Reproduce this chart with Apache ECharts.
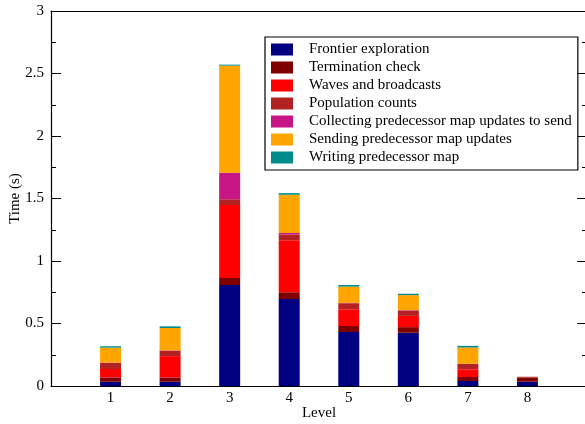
<!DOCTYPE html>
<html>
<head>
<meta charset="utf-8">
<script src="https://cdn.jsdelivr.net/npm/echarts@6/dist/echarts.min.js"></script>
<style>
  html, body { margin: 0; padding: 0; background: #fff; }
  #chart { width: 585px; height: 424px; }
</style>
</head>
<body>
<div id="chart"></div>
<script>
// BFS level timing breakdown, seconds per phase
const levels = [1, 2, 3, 4, 5, 6, 7, 8];
const frontier    = [0.034, 0.034, 0.808, 0.696, 0.432, 0.426, 0.040, 0.034];
const termination = [0.035, 0.035, 0.056, 0.054, 0.048, 0.045, 0.032, 0.034];
const waves       = [0.067, 0.170, 0.584, 0.416, 0.134, 0.090, 0.062, 0.002];
const population  = [0.048, 0.043, 0.046, 0.046, 0.048, 0.043, 0.042, 0.004];
const collecting  = [0.003, 0.003, 0.213, 0.012, 0.003, 0.003, 0.002, 0.000];
const sending     = [0.120, 0.179, 0.856, 0.306, 0.130, 0.120, 0.130, 0.000];
const writing     = [0.011, 0.013, 0.008, 0.013, 0.013, 0.011, 0.013, 0.000];

const yTicks = [0, 0.5, 1, 1.5, 2, 2.5, 3];

const phases = [
  { name: 'Frontier exploration', values: frontier, color: '#000080' },
  { name: 'Termination check', values: termination, color: '#7f0000' },
  { name: 'Waves and broadcasts', values: waves, color: '#ff0000' },
  { name: 'Population counts', values: population, color: '#b22222' },
  { name: 'Collecting predecessor map updates to send', values: collecting, color: '#c71585' },
  { name: 'Sending predecessor map updates', values: sending, color: '#ffa500' },
  { name: 'Writing predecessor map', values: writing, color: '#008b8b' }
];

// The level axis runs from 0 to 9 with an empty slot at each end
const slots = [0].concat(levels, [levels[levels.length - 1] + 1]);
const padded = arr => [null].concat(arr, [null]);

const FONT = 'Liberation Serif';
const chart = echarts.init(document.getElementById('chart'), null, { renderer: 'canvas' });

const yAxisBase = {
  type: 'value',
  min: yTicks[0],
  max: yTicks[yTicks.length - 1],
  interval: 0.5,
  axisLine: { show: true, lineStyle: { color: '#000', width: 1.2 } },
  axisTick: { show: true, inside: true, length: 10, lineStyle: { color: '#000', width: 1 } },
  minorTick: { show: true, splitNumber: 2, length: 5, lineStyle: { color: '#000', width: 1 } },
  splitLine: { show: false },
  minorSplitLine: { show: false }
};

chart.setOption({
  animation: false,
  backgroundColor: '#fff',
  textStyle: { fontFamily: FONT },
  grid: { left: 51, right: -2, top: 11, bottom: 38, containLabel: false, outerBoundsMode: 'none' },
  legend: {
    orient: 'vertical',
    left: 265,
    top: 37,
    padding: [5, 6, 5, 6],
    itemWidth: 22,
    itemHeight: 12,
    itemGap: 3,
    borderColor: '#000',
    borderWidth: 1.2,
    backgroundColor: '#fff',
    icon: 'rect',
    textStyle: { fontFamily: FONT, fontSize: 15, color: '#000', padding: [0, 0, 0, 11] },
    data: phases.map(p => p.name)
  },
  xAxis: [
    {
      type: 'category',
      data: slots.map(String),
      boundaryGap: false,
      name: 'Level',
      nameLocation: 'middle',
      nameGap: 20,
      nameMoveOverlap: false,
      nameTextStyle: { fontFamily: FONT, fontSize: 15, color: '#000' },
      axisLine: { show: true, onZero: false, lineStyle: { color: '#000', width: 1.2 } },
      axisTick: { show: false },
      splitLine: { show: false },
      axisLabel: {
        interval: 0,
        fontFamily: FONT, fontSize: 15, color: '#000', margin: 5,
        formatter: v => (levels.indexOf(Number(v)) >= 0 ? v : '')
      }
    },
    {
      type: 'value',
      position: 'top',
      min: 0,
      max: 9,
      axisLine: { show: true, onZero: false, lineStyle: { color: '#000', width: 1.2 } },
      axisTick: { show: false },
      axisLabel: { show: false },
      splitLine: { show: false }
    }
  ],
  yAxis: [
    Object.assign({}, yAxisBase, {
      position: 'left',
      name: 'Time (s)',
      nameLocation: 'middle',
      nameGap: 28,
      nameMoveOverlap: false,
      nameTextStyle: { fontFamily: FONT, fontSize: 15, color: '#000' },
      axisLabel: { fontFamily: FONT, fontSize: 15, color: '#000', margin: 7 }
    }),
    Object.assign({}, yAxisBase, {
      position: 'right',
      axisLabel: { show: false }
    })
  ],
  series: phases.map(p => ({
    name: p.name,
    type: 'bar',
    stack: 'total',
    barWidth: 21,
    xAxisIndex: 0,
    yAxisIndex: 0,
    itemStyle: { color: p.color },
    emphasis: { disabled: true },
    data: padded(p.values)
  }))
});
</script>
</body>
</html>
